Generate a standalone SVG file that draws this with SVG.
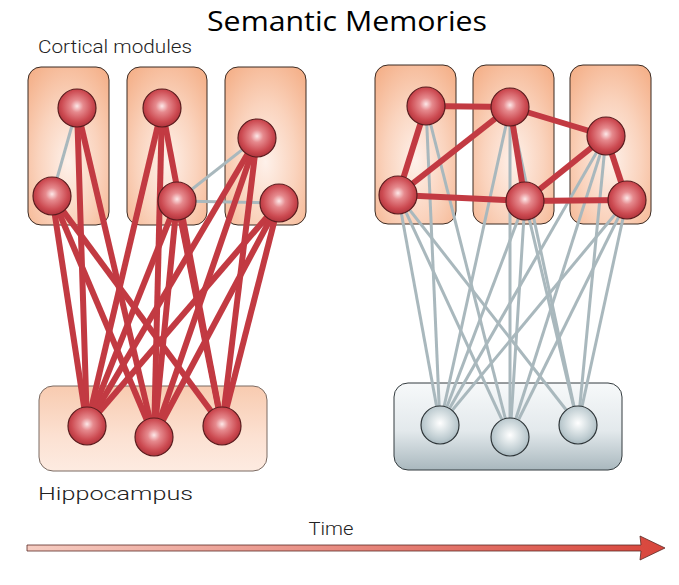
<svg xmlns="http://www.w3.org/2000/svg" width="679" height="585" viewBox="0 0 679 585">
<defs>
<radialGradient id="boxG" cx="0.5" cy="0.6" r="0.75">
<stop offset="0" stop-color="#fef1ea"/>
<stop offset="0.5" stop-color="#fad3bd"/>
<stop offset="1" stop-color="#f4ae86"/>
</radialGradient>
<linearGradient id="hipL" x1="0" y1="0" x2="0" y2="1">
<stop offset="0" stop-color="#f8cbb0"/>
<stop offset="0.6" stop-color="#fce1d2"/>
<stop offset="1" stop-color="#fdebe1"/>
</linearGradient>
<linearGradient id="hipR" x1="0" y1="0" x2="0" y2="1">
<stop offset="0" stop-color="#f7f9fa"/>
<stop offset="0.55" stop-color="#e3e9ec"/>
<stop offset="1" stop-color="#a9b8be"/>
</linearGradient>
<radialGradient id="redN" cx="0.5" cy="0.45" r="0.55">
<stop offset="0" stop-color="#fde8e8"/>
<stop offset="0.3" stop-color="#e68a8e"/>
<stop offset="0.75" stop-color="#cc4a51"/>
<stop offset="1" stop-color="#b0343c"/>
</radialGradient>
<radialGradient id="grayN" cx="0.5" cy="0.45" r="0.55">
<stop offset="0" stop-color="#ffffff"/>
<stop offset="0.35" stop-color="#e1e8ea"/>
<stop offset="0.8" stop-color="#bccacf"/>
<stop offset="1" stop-color="#a6b6bc"/>
</radialGradient>
<linearGradient id="timeG" x1="0" y1="0" x2="1" y2="0">
<stop offset="0" stop-color="#f6cdc2"/>
<stop offset="1" stop-color="#d8453b"/>
</linearGradient>
<style>
.box{fill:url(#boxG);stroke:#3b2a22;stroke-width:1}
.rn{fill:url(#redN);stroke:#5a1c1e;stroke-width:1.2}
.gn{fill:url(#grayN);stroke:#2e3538;stroke-width:1.2}
.red{stroke:#c23a42;stroke-width:6;fill:none}
.gray{stroke:#a9b8bd;stroke-width:3;fill:none}
.lbl{font-family:Roboto,"Liberation Sans",Arial,sans-serif;font-weight:300;font-size:18px;fill:#222}
</style>
</defs>
<rect width="679" height="585" fill="#ffffff"/>
<text x="347" y="31" text-anchor="middle" font-family="'Open Sans','Liberation Sans',sans-serif" font-size="28" textLength="280" lengthAdjust="spacingAndGlyphs" fill="#000">Semantic Memories</text>
<text class="lbl" x="38" y="53" textLength="154" lengthAdjust="spacingAndGlyphs">Cortical modules</text>
<text class="lbl" x="38" y="500" textLength="155" lengthAdjust="spacingAndGlyphs">Hippocampus</text>
<text class="lbl" x="331" y="535" text-anchor="middle" textLength="45" lengthAdjust="spacingAndGlyphs">Time</text>

<g id="modules-left">
<rect class="box" x="28" y="67" width="81" height="158" rx="13"/>
<rect class="box" x="127" y="67" width="80" height="158" rx="13"/>
<rect class="box" x="225" y="67" width="81" height="158" rx="13"/>
<rect x="39" y="386" width="228" height="85" rx="14" fill="url(#hipL)" stroke="#7a6a62" stroke-width="1"/>
</g>
<g id="modules-right">
<rect class="box" x="375" y="65" width="81" height="159" rx="13"/>
<rect class="box" x="473" y="65" width="81" height="159" rx="13"/>
<rect class="box" x="570" y="65" width="81" height="159" rx="13"/>
<rect x="394" y="383" width="228" height="87" rx="14" fill="url(#hipR)" stroke="#333b3e" stroke-width="1"/>
</g>

<g id="connectors">
<g class="gray">
<line x1="77" y1="108" x2="52" y2="196"/>
<line x1="177" y1="201" x2="257" y2="138"/>
<line x1="177" y1="201" x2="279" y2="203"/>
</g>
<g class="red">
<line x1="77" y1="108" x2="87" y2="426"/>
<line x1="77" y1="108" x2="154" y2="437"/>
<line x1="52" y1="196" x2="87" y2="426"/>
<line x1="52" y1="196" x2="154" y2="437"/>
<line x1="52" y1="196" x2="222" y2="426"/>
<line x1="162" y1="108" x2="87" y2="426"/>
<line x1="162" y1="108" x2="154" y2="437"/>
<line x1="162" y1="108" x2="222" y2="426"/>
<line x1="177" y1="201" x2="87" y2="426"/>
<line x1="177" y1="201" x2="154" y2="437"/>
<line x1="177" y1="201" x2="222" y2="426"/>
<line x1="257" y1="138" x2="87" y2="426"/>
<line x1="257" y1="138" x2="154" y2="437"/>
<line x1="257" y1="138" x2="222" y2="426"/>
<line x1="279" y1="203" x2="87" y2="426"/>
<line x1="279" y1="203" x2="154" y2="437"/>
<line x1="279" y1="203" x2="222" y2="426"/>
</g>
<g class="gray">
<line x1="426" y1="106" x2="440" y2="425"/>
<line x1="426" y1="106" x2="510" y2="437"/>
<line x1="398" y1="195" x2="440" y2="425"/>
<line x1="398" y1="195" x2="510" y2="437"/>
<line x1="398" y1="195" x2="578" y2="425"/>
<line x1="510" y1="107" x2="440" y2="425"/>
<line x1="510" y1="107" x2="510" y2="437"/>
<line x1="510" y1="107" x2="578" y2="425"/>
<line x1="525" y1="201" x2="440" y2="425"/>
<line x1="525" y1="201" x2="510" y2="437"/>
<line x1="525" y1="201" x2="578" y2="425"/>
<line x1="606" y1="136" x2="440" y2="425"/>
<line x1="606" y1="136" x2="510" y2="437"/>
<line x1="606" y1="136" x2="578" y2="425"/>
<line x1="627" y1="200" x2="440" y2="425"/>
<line x1="627" y1="200" x2="510" y2="437"/>
<line x1="627" y1="200" x2="578" y2="425"/>
</g>
<g class="red">
<line x1="426" y1="106" x2="510" y2="107"/>
<line x1="426" y1="106" x2="398" y2="195"/>
<line x1="398" y1="195" x2="510" y2="107"/>
<line x1="398" y1="195" x2="525" y2="201"/>
<line x1="510" y1="107" x2="525" y2="201"/>
<line x1="510" y1="107" x2="606" y2="136"/>
<line x1="606" y1="136" x2="525" y2="201"/>
<line x1="606" y1="136" x2="627" y2="200"/>
<line x1="525" y1="201" x2="627" y2="200"/>
</g>
</g>

<g id="nodes-left">
<circle id="a1" class="rn" cx="77" cy="108" r="19"/>
<circle id="a2" class="rn" cx="52" cy="196" r="19"/>
<circle id="b1" class="rn" cx="162" cy="108" r="19"/>
<circle id="b2" class="rn" cx="177" cy="201" r="19"/>
<circle id="c1" class="rn" cx="257" cy="138" r="19"/>
<circle id="c2" class="rn" cx="279" cy="203" r="19"/>
<circle id="h1" class="rn" cx="87" cy="426" r="19"/>
<circle id="h2" class="rn" cx="154" cy="437" r="19"/>
<circle id="h3" class="rn" cx="222" cy="426" r="19"/>
</g>
<g id="nodes-right">
<circle id="d1" class="rn" cx="426" cy="106" r="19"/>
<circle id="d2" class="rn" cx="398" cy="195" r="19"/>
<circle id="e1" class="rn" cx="510" cy="107" r="19"/>
<circle id="e2" class="rn" cx="525" cy="201" r="19"/>
<circle id="f1" class="rn" cx="606" cy="136" r="19"/>
<circle id="f2" class="rn" cx="627" cy="200" r="19"/>
<circle id="g1" class="gn" cx="440" cy="425" r="19"/>
<circle id="g2" class="gn" cx="510" cy="437" r="19"/>
<circle id="g3" class="gn" cx="578" cy="425" r="19"/>
</g>

<g id="time-arrow">
<path d="M27 545 L641 545 L640 536 L665 548 L640 560 L641 551 L27 551 Z" fill="url(#timeG)" stroke="#5a2a24" stroke-width="0.8"/>
</g>
</svg>
